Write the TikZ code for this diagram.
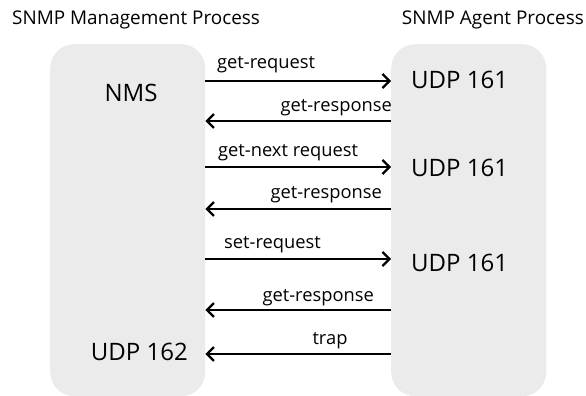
\documentclass[tikz,border=0pt]{standalone}
\usepackage{fontspec}
\setmainfont{Open Sans}
\usetikzlibrary{arrows.meta}
\definecolor{boxgray}{HTML}{EBEBEB}
\begin{document}
\begin{tikzpicture}[x=1pt,y=-1pt,
  procbox/.style={fill=boxgray,draw=none,rounded corners=24pt,minimum width=155pt,minimum height=352pt,anchor=north west,inner sep=0pt},
  title/.style={font=\fontsize{18.9}{22}\selectfont,inner sep=0pt,anchor=base},
  port/.style={font=\fontsize{24}{28}\selectfont,inner sep=0pt},
  msg/.style={font=\fontsize{18.3}{21}\selectfont,inner sep=0pt,anchor=base},
  flow/.style={line width=2.3pt,-{Straight Barb[length=7pt,width=14pt,line width=2.2pt]}}]
\useasboundingbox (0,0) rectangle (586,396);
\node[procbox] (lbox) at (50,44) {};
\node[procbox] (rbox) at (391,44) {};
\node[title,anchor=base west] (ltitle) at (12,25) {SNMP Management Process};
\node[title,anchor=base east] (rtitle) at (584,25) {SNMP Agent Process};
\node[port] (nms) at (131,93) {NMS};
\node[port,anchor=east] (udp162) at (188,352) {UDP 162};
\node[port,anchor=west] (udpa) at (411,80) {UDP 161};
\node[port,anchor=west] (udpb) at (411,168) {UDP 161};
\node[port,anchor=west] (udpc) at (411,263) {UDP 161};
% arrows
\coordinate (a1l) at (lbox.east |- 0,81);  \coordinate (a1r) at (rbox.west |- 0,81);
\coordinate (a2l) at (lbox.east |- 0,121); \coordinate (a2r) at (rbox.west |- 0,121);
\coordinate (a3l) at (lbox.east |- 0,167); \coordinate (a3r) at (rbox.west |- 0,167);
\coordinate (a4l) at (lbox.east |- 0,209); \coordinate (a4r) at (rbox.west |- 0,209);
\coordinate (a5l) at (lbox.east |- 0,259); \coordinate (a5r) at (rbox.west |- 0,259);
\coordinate (a6l) at (lbox.east |- 0,310); \coordinate (a6r) at (rbox.west |- 0,310);
\coordinate (a7l) at (lbox.east |- 0,354); \coordinate (a7r) at (rbox.west |- 0,354);
\draw[flow] (a1l) -- (a1r);
\draw[flow] (a2r) -- (a2l);
\draw[flow] (a3l) -- (a3r);
\draw[flow] (a4r) -- (a4l);
\draw[flow] (a5l) -- (a5r);
\draw[flow] (a6r) -- (a6l);
\draw[flow] (a7r) -- (a7l);
\node[msg,anchor=base west] (m1) at (217,69) {get-request};
\node[msg,anchor=base east] (m2) at (392,111) {get-response};
\node[msg,anchor=base west] (m3) at (218,156) {get-next request};
\node[msg,anchor=base east] (m4) at (382,198) {get-response};
\node[msg,anchor=base west] (m5) at (224,248) {set-request};
\node[msg,anchor=base east] (m6) at (374,301) {get-response};
\node[msg,anchor=base] (m7) at (330,344) {trap};
\end{tikzpicture}
\end{document}
